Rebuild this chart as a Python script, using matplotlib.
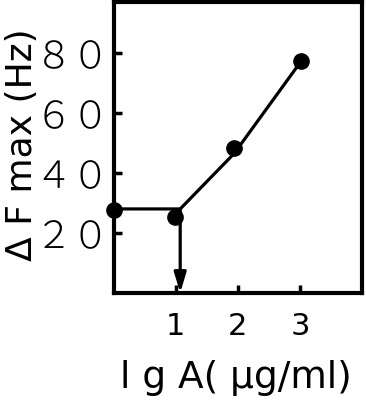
import matplotlib
matplotlib.use('Agg')
import matplotlib.pyplot as plt

plt.rcParams['font.family'] = ['DejaVu Sans']

# data
lg_a = [0.0, 0.98, 1.94, 3.02]
df_max = [27.7, 25.3, 48.3, 77.3]
# drawn line: plateau, knee, then rising part
line_x = [0.0, 1.07, 1.94, 3.02]
line_y = [28.0, 28.0, 46.5, 77.3]
knee_x = 1.07
knee_y = 28.0

yticks = [20, 40, 60, 80]
ytick_labels = ['２０', '４０', '６０', '８０']
xticks = [1, 2, 3]
xtick_labels = ['1', '2', '3']

fig = plt.figure(figsize=(3.66, 4.04), dpi=100)
ax = fig.add_axes([0.311, 0.275, 0.678, 0.72])

ax.plot(line_x, line_y, color='black', lw=2.3, clip_on=False)
ax.plot(lg_a, df_max, 'o', color='black', ms=11, clip_on=False, zorder=5)
ax.annotate('', xy=(knee_x, 0), xytext=(knee_x, knee_y),
            arrowprops=dict(arrowstyle='-|>,head_length=1.0,head_width=0.3',
                            color='black', lw=2.3,
                            mutation_scale=12, shrinkA=0, shrinkB=0))

ax.set_xlim(0, 4)
ax.set_ylim(0, 97)
ax.set_xticks(xticks)
ax.set_xticklabels(xtick_labels, fontsize=22)
ax.set_yticks(yticks)
ax.set_yticklabels(ytick_labels, fontsize=27, family=['Noto Sans CJK JP'],
                   fontweight='light')
ax.tick_params(direction='in', length=6, width=2.5)
ax.tick_params(axis='y', pad=3)
ax.tick_params(axis='x', pad=14)
for s in ax.spines.values():
    s.set_linewidth(3)

ax.set_xlabel('l g A( μg/ml)', fontsize=27)
ax.xaxis.set_label_coords(0.49, -0.23)
ax.set_ylabel('Δ F max (Hz)', fontsize=26)
ax.yaxis.set_label_coords(-0.30, 0.51)

fig.savefig('out.png', dpi=100)
